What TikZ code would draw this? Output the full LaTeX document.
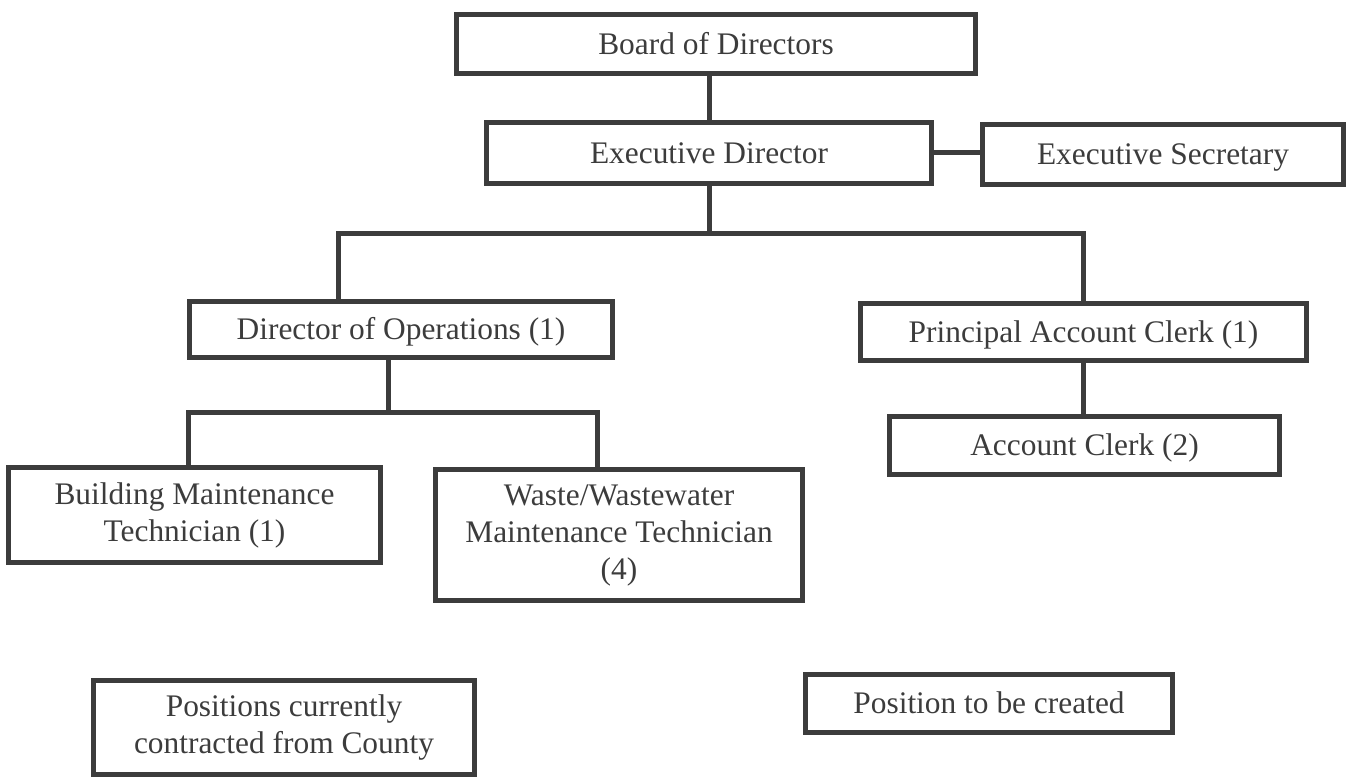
\documentclass[tikz,border=0pt]{standalone}
\usepackage{fontspec}
\setmainfont{Liberation Serif}
\usepackage{xcolor}
\usepackage{tikz}
\usetikzlibrary{positioning,calc}
\definecolor{ink}{HTML}{3C3C3C}
\tikzset{
  box/.style ={draw=ink,line width=2.5pt,text=ink,align=center,inner sep=2pt,
               font=\fontsize{15.7}{18.5}\selectfont},
  post/.style={box,text height=13.6pt,text depth=3.4pt},
  tie/.style ={draw=ink,line width=2.5pt}
}
\begin{document}
\begin{tikzpicture}[x=0.5pt,y=-0.5pt]
        \useasboundingbox (0,0) rectangle (1348,779);
        \node[post,minimum width=259.5pt,minimum height=29.5pt] (board) at (716,44) {Board of Directors};
        \node[post,minimum width=222.5pt,minimum height=30.5pt] (exec) at (709,153) {Executive Director};
        \node[post,minimum width=180.5pt,minimum height=30pt] (secr) at (1163,154.5) {Executive Secretary};
        \node[post,minimum width=211.5pt,minimum height=28pt] (ops) at (401,329.5) {Director of Operations (1)};
        \node[post,minimum width=223pt,minimum height=28.5pt] (pac) at (1083.5,332) {Principal Account Clerk (1)};
        \node[post,minimum width=195pt,minimum height=29pt] (clerk) at (1084.5,445.5) {Account Clerk (2)};
        \node[box,minimum width=186pt,minimum height=47.5pt] (bldg) at (194.5,515)
          {Building Maintenance\\Technician (1)};
        \node[box,minimum width=183.5pt,minimum height=65.5pt] (waste) at (619,535)
          {Waste/Wastewater\\Maintenance Technician\\(4)};
        \node[box,minimum width=190.5pt,minimum height=47pt] (county) at (284,727.5)
          {Positions currently\\contracted from County};
        \node[post,minimum width=183.5pt,minimum height=29pt] (created) at (989,703.5) {Position to be created};
        \coordinate (topbus) at (709,234);
        \coordinate (opsbus) at (388,413);
        \draw[tie] (exec.north) -- (exec.north |- board.south);
        \draw[tie] (exec.east) -- (exec.east -| secr.west);
        \draw[tie] (exec.south) -- (topbus);
        \draw[tie] ([xshift=-31.5pt]ops.north) |- (topbus) -| (pac.north);
        \draw[tie] (pac.south) -- (pac.south |- clerk.north);
        \draw[tie] ([xshift=-6.5pt]ops.south) -- (opsbus);
        \draw[tie] ([xshift=-3.25pt]bldg.north) |- (opsbus) -| ([xshift=-11pt]waste.north);
      \end{tikzpicture}
\end{document}
